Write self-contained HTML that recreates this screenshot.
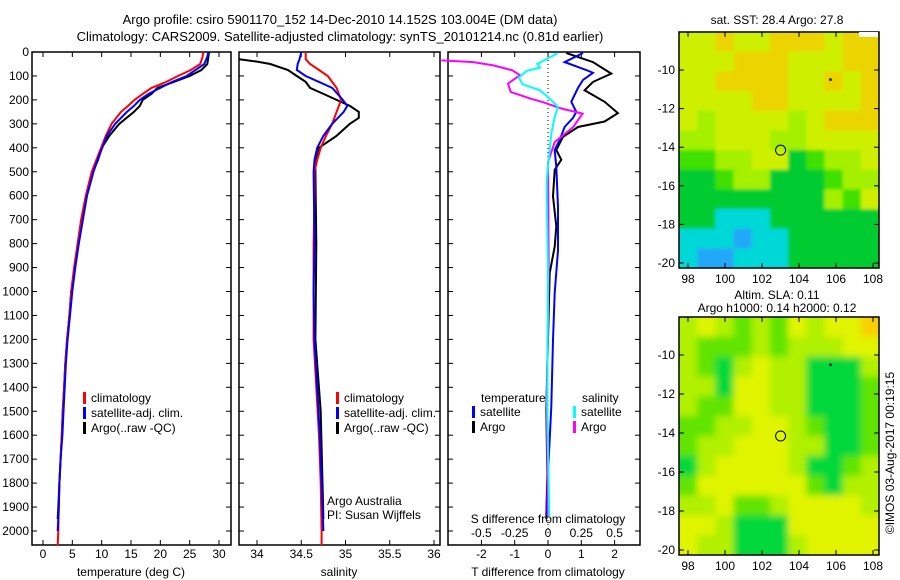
<!DOCTYPE html>
<html><head><meta charset="utf-8"><style>
html,body{margin:0;padding:0;background:#fff}
svg{display:block}
text{font-family:"Liberation Sans",sans-serif;font-size:12px;fill:#000}
</style></head><body>
<svg id="fig" width="900" height="580" viewBox="0 0 900 580" xmlns="http://www.w3.org/2000/svg">
<defs>
<clipPath id="cp-sla"><rect x="679" y="317" width="200" height="238"/></clipPath>
<clipPath id="cp-sst"><rect x="679" y="32" width="200" height="236"/></clipPath>
<filter id="bl"><feGaussianBlur stdDeviation="3.5"/></filter>
<filter id="bl2"><feGaussianBlur stdDeviation="1.5"/></filter>
</defs>
<text x="340" y="24" text-anchor="middle" style="font-size:13px">Argo profile: csiro 5901170_152 14-Dec-2010 14.152S 103.004E (DM data)</text>
<text x="340" y="41" text-anchor="middle" style="font-size:13px">Climatology: CARS2009. Satellite-adjusted climatology: synTS_20101214.nc (0.81d earlier)</text>
<g id="g"></g>
</svg>
<script>
// ---- data ----
const tDepthClim=[0,20,50,75,100,125,150,175,200,225,250,300,350,400,450,500,600,700,800,900,1000,1100,1200,1300,1400,1500,1600,1700,1800,1900,2000,2060];
const tClim=[27.3,27.2,26.8,25.2,23,21,18.5,17,15.6,14.5,13.3,11.7,10.7,9.9,9.1,8.3,7.3,6.5,5.9,5.3,4.8,4.5,4.1,3.8,3.6,3.4,3.2,3.0,2.8,2.7,2.6,2.5];
const tDepthSat=[0,20,50,75,100,125,150,175,200,225,250,300,350,400,450,500,600,700,800,900,1000,1100,1200,1300,1400,1500,1600,1700,1800,1900,2000];
const tSat=[28.2,28,27.5,26,24.5,22,20,18,16.5,15.5,14.3,12.3,10.9,10.1,9.3,8.6,7.5,6.8,6.1,5.5,5.0,4.6,4.2,3.9,3.7,3.5,3.3,3.0,2.8,2.7,2.5];
const tDepthArgo=[0,20,50,75,100,125,150,175,200,225,250,300,350,400,450,500,600,700,800,900,1000,1100,1200,1300,1400,1500,1600,1700,1800,1900,1950];
const tArgo=[28.3,28.2,28,27,25,22.3,19.5,18.5,17,16.5,15.5,13,11.3,10,9.4,8.5,7.4,6.7,6.0,5.4,4.8,4.5,4.1,3.8,3.6,3.35,3.2,3.0,2.8,2.6,2.5];
const sDepthClim=[0,30,50,75,100,150,200,250,300,350,400,450,500,600,800,1000,1200,1400,1600,1800,2000,2060];
const sClim=[34.55,34.55,34.6,34.7,34.8,34.9,34.95,34.9,34.85,34.78,34.72,34.68,34.65,34.65,34.64,34.64,34.64,34.67,34.7,34.72,34.73,34.73];
const sDepthSat=[0,30,50,75,100,125,150,200,225,250,300,350,400,450,500,800,1000,1200,1400,1600,1800,2000];
const sSat=[34.5,34.48,34.46,34.45,34.55,34.7,34.85,34.97,35.02,34.98,34.85,34.75,34.68,34.65,34.64,34.65,34.64,34.65,34.68,34.71,34.73,34.75];
const sDepthArgo=[30,40,50,75,100,125,150,175,200,225,250,275,300,350,400,450,500,800,1200,1500,1800,1950];
const sArgo=[33.8,34.0,34.15,34.35,34.45,34.55,34.6,34.75,34.9,35.05,35.15,35.15,35.05,34.9,34.7,34.66,34.66,34.67,34.66,34.72,34.74,34.75];
const dtSatDepth=[4,42,75,87,117,150,208,250,275,313,367,409,480,647,828,1006,1202,1480,1760,1930];
const dtSat=[1.05,0.5,1.15,1.35,1.05,0.9,0.7,0.85,0.75,0.5,0.35,0.2,0.25,0.3,0.3,0.2,0.15,0.1,0.0,-0.05];
const dtArgoDepth=[4,42,90,125,160,208,255,290,313,354,409,450,492,603,728,812,923,1200,1490,1760,1950];
const dtArgo=[0.55,1.35,1.9,1.35,1.1,1.7,2.1,1.7,0.9,0.45,0.25,0.4,0.2,0.15,0.25,0.2,0.05,0,-0.05,-0.02,-0.05];
const dsSatDepth=[4,50,65,79,107,135,160,188,229,271,341,424,536,619,910,1480,1940];
const dsSat=[0.075,-0.08,-0.06,-0.16,-0.22,-0.19,-0.06,0,0.075,0.05,0.025,0.01,-0.01,-0.01,0.0,-0.005,0.01];
const dsArgoDepth=[35,42,56,76,97,132,167,195,209,236,257,313,376,460,900,1480,1940];
const dsArgo=[-0.8,-0.56,-0.41,-0.27,-0.21,-0.3,-0.28,-0.13,-0.04,0.1,0.26,0.19,0.05,0.0,0.005,-0.01,0.0];
const depthTicks=[0,100,200,300,400,500,600,700,800,900,1000,1100,1200,1300,1400,1500,1600,1700,1800,1900,2000];
const tTicks=[0,5,10,15,20,25,30];
const sTicks=[34,34.5,35,35.5,36];
const dtTicks=[-2,-1,0,1,2];
const dsTicks=[-0.5,-0.25,0,0.25,0.5];
const dsTickLabels=["-0.5","-0.25","0","0.25","0.5"];
const latTicks=[-10,-12,-14,-16,-18,-20];
const lonTicks=[98,100,102,104,106,108];
const sstGrid=["yyoyyoooyoo","yyyoooyyyoo","yyooooyyoyo","yyyyooyyyyo","ylyyyylyooo","llyyyllyyyy","ggllyyGglly","GGgllGGGgll","GGGGGGGGlgy","GGcccGGGGGG","cccbccGGGGG","cbbcccGGGGG"];
const slaGrid=["lylglgylyyo","lggglglllyy","lgGlyllGGGl","llGyyllGGGg","lggyyllGGGg","ggllyylgGGg","gllyyyllGGg","GlyyyylGGgl","gyyyyyygGll","llygglyyyyl","yylGGGyyyyy","yllGGGlyyyy"];
const floatLon=103.004, floatLat=-14.152;

// ---- scales ----
const D0=52, DK=0.2395, YB=545;
const yD=d=>D0+DK*d;
const xT=t=>43+(t-0)*(219-43)/30;
const xS=s=>257+(s-34)*88.5;
const xDT=t=>548+t*33.3;
const xDS=s=>548+s*133.2;
const mLon=l=>688+(l-98)*18.5;
const mLatTop=l=>70+(-10-l)*19.3;
const mLatBot=l=>355+(-10-l)*19.5;

const NS="http://www.w3.org/2000/svg";
const G=document.getElementById('g');
function el(tag,attrs,parent){const e=document.createElementNS(NS,tag);for(const k in attrs)e.setAttribute(k,attrs[k]);(parent||G).appendChild(e);return e;}
function txt(x,y,s,anchor,parent){const e=el('text',{x:x,y:y,'text-anchor':anchor||'start'},parent);e.textContent=s;return e;}

function frame(x0,x1,name){
  const r=el('rect',{x:x0,y:D0,width:x1-x0,height:YB-D0,fill:'none',stroke:'#000','stroke-width':1.5});
  
  
}
function yTicks(x0,x1,labels){
  depthTicks.forEach(d=>{
    const y=yD(d);
    el('line',{x1:x0,y1:y,x2:x0+5,y2:y,stroke:'#000'});
    el('line',{x1:x1,y1:y,x2:x1-5,y2:y,stroke:'#000'});
    if(labels){const t=txt(x0-3,y+4,String(d),'end');
      
      }
  });
}
function xTicks(vals,labs,fx,y){
  vals.forEach((v,i)=>{const x=fx(v);
    el('line',{x1:x,y1:YB,x2:x,y2:YB-5,stroke:'#000'});
    el('line',{x1:x,y1:D0,x2:x,y2:D0+5,stroke:'#000'});
    const t=txt(x,y,labs[i],'middle');
    
    });
}
function line(depths,vals,fx,color,name,w){
  const pts=depths.map((d,i)=>fx(vals[i]).toFixed(1)+','+yD(d).toFixed(1)).join(' ');
  const p=el('polyline',{points:pts,fill:'none',stroke:color,'stroke-width':w||2,'stroke-linejoin':'miter'});
  
  
}
function legend(x,y,items,name){
  items.forEach((it,i)=>{
    el('rect',{x:x,y:y+i*15-10,width:3,height:12,fill:it[1]});
    const t=txt(x+8,y+i*15,it[0]);
    
    
  });
}

// temperature panel
frame(32,231,'temperature-panel');
yTicks(32,231,true);
xTicks(tTicks,tTicks.map(String),xT,558);
let lab=txt(131,576,'temperature (deg C)','middle');


line(tDepthArgo,tArgo,xT,'#000','temp-argo-line');
line(tDepthClim,tClim,xT,'#f00','temp-climatology-line');
line(tDepthSat,tSat,xT,'#00f','temp-satellite-line');
legend(83,402,[['climatology','#f00'],['satellite-adj. clim.','#00f'],['Argo(..raw -QC)','#000']],'temp-legend');

// salinity panel
frame(239,440,'salinity-panel');
yTicks(239,440,false);
xTicks(sTicks,sTicks.map(String),xS,558);
lab=txt(339,576,'salinity','middle');


line(sDepthArgo,sArgo,xS,'#000','sal-argo-line');
line(sDepthClim,sClim,xS,'#f00','sal-climatology-line');
line(sDepthSat,sSat,xS,'#00f','sal-satellite-line');
legend(336,402,[['climatology','#f00'],['satellite-adj. clim.','#00f'],['Argo(..raw -QC)','#000']],'sal-legend');
lab=txt(327,505,'Argo Australia');


lab=txt(327,519,'PI: Susan Wijffels');



// difference panel
frame(448,640,'difference-panel');
yTicks(448,640,false);
xTicks(dtTicks,dtTicks.map(String),xDT,558);
dsTicks.forEach((v,i)=>{const t=txt(xDS(v),537,dsTickLabels[i],'middle');
  
  });
lab=txt(548,523,'S difference from climatology','middle');


lab=txt(548,576,'T difference from climatology','middle');


el('line',{x1:548,y1:D0,x2:548,y2:YB,stroke:'#000','stroke-dasharray':'1,3'});
line(dtArgoDepth,dtArgo,xDT,'#000','t-diff-argo-line');
line(dtSatDepth,dtSat,xDT,'#00f','t-diff-satellite-line');
line(dsArgoDepth,dsArgo,xDS,'#f0f','s-diff-argo-line');
line(dsSatDepth,dsSat,xDS,'#0ff','s-diff-satellite-line');
lab=txt(481,402,'temperature');


lab=txt(582,402,'salinity');


legend(472,416,[['satellite','#00f'],['Argo','#000']],'diff-t-legend');
legend(573,416,[['satellite','#0ff'],['Argo','#f0f']],'diff-s-legend');

// maps
const COL={o:'#ecd400',y:'#cef000',l:'#a4f000',g:'#40e000',G:'#00cc30',c:'#00d8d8',b:'#20a8f8',' ':'#cef000'};
const COL2={o:'#f8d000',y:'#e0f400',l:'#b0f000',g:'#60e400',G:'#00d83a',c:'#00d8d8',b:'#20a8f8',' ':'#e0f000'};
function map(grid,top,bot,fLat,cols,clip,blur,name){
  const g=el('g',{'clip-path':'url(#'+clip+')'});
  
  
  const inner=el('g',{filter:'url(#'+blur+')'},g);
  const nr=grid.length,nc=grid[0].length;
  const cw=200/nc,ch=(bot-top)/nr;
  grid.forEach((row,r)=>{for(let c=0;c<nc;c++){
    el('rect',{x:679+c*cw-8*(c==0),y:top+r*ch-8*(r==0),width:cw+1+8*(c==0||c==nc-1),height:ch+1+8*(r==0||r==nr-1),fill:cols[row[c]]||cols.y},inner);}});
  el('rect',{x:679,y:top,width:200,height:bot-top,fill:'none',stroke:'#000','stroke-width':1.5});
  latTicks.forEach(l=>{const y=fLat(l);
    el('line',{x1:679,y1:y,x2:684,y2:y,stroke:'#000'});
    el('line',{x1:879,y1:y,x2:874,y2:y,stroke:'#000'});
    const t=txt(675,y+4,String(l),'end');
    
    });
  lonTicks.forEach(l=>{const x=mLon(l);
    el('line',{x1:x,y1:bot,x2:x,y2:bot-5,stroke:'#000'});
    el('line',{x1:x,y1:top,x2:x,y2:top+5,stroke:'#000'});
    const t=txt(x,bot+15,String(l),'middle');
    
    });
  const c=el('circle',{cx:mLon(floatLon),cy:fLat(floatLat),r:5,fill:'none',stroke:'#000'});
  
  
  el('circle',{cx:mLon(105.7),cy:fLat(-10.5),r:1.5,fill:'#333'});
}
map(sstGrid,32,268,mLatTop,COL,'cp-sst','bl2','sst-map');
map(slaGrid,317,555,mLatBot,COL2,'cp-sla','bl','sla-map');
el('rect',{x:859,y:32,width:19,height:5,fill:'#fff'});
lab=txt(777,24,'sat. SST: 28.4  Argo: 27.8','middle');


lab=txt(777,299,'Altim. SLA: 0.11','middle');


lab=txt(777,312,'Argo h1000: 0.14 h2000: 0.12','middle');


lab=txt(0,0,'©IMOS 03-Aug-2017 00:19:15','middle');
lab.setAttribute('transform','translate(894,453) rotate(-90)');


</script>
</body></html>
